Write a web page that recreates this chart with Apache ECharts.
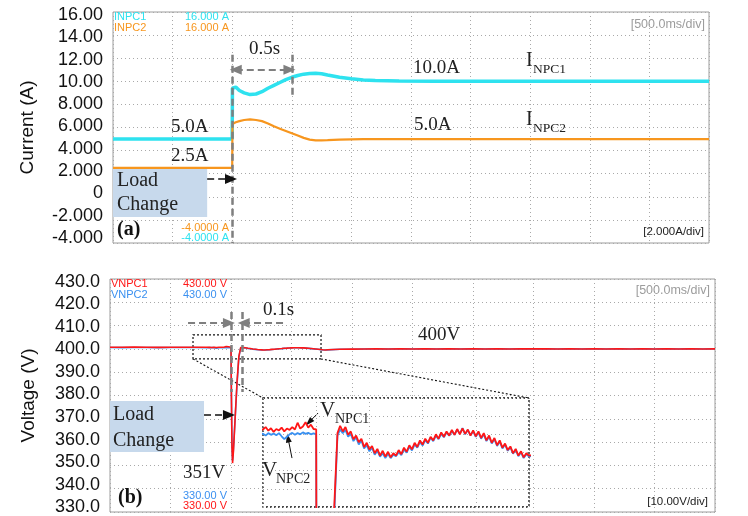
<!DOCTYPE html>
<html>
<head>
<meta charset="utf-8">
<script src="https://cdn.jsdelivr.net/npm/echarts@6.0.0/dist/echarts.min.js"></script>
<style>
html, body { margin: 0; padding: 0; background: #fff; }
#chart { width: 748px; height: 516px; }
</style>
</head>
<body>
<div id="chart"></div>
<script>
// ---- (a) NPC currents, 500 ms/div ----
const iTime = [0, 0.25, 0.5, 0.75, 1.0, 1.002, 1.03, 1.06, 1.1, 1.15, 1.2, 1.25, 1.3, 1.35, 1.4, 1.45, 1.5,
  1.55, 1.6, 1.65, 1.7, 1.75, 1.8, 1.9, 2.0, 2.1, 2.2, 2.4, 2.7, 3.0, 3.5, 4.0, 4.5, 5.0];
const iNpc1 = [5.0, 5.0, 5.0, 5.0, 5.0, 9.4, 9.5, 9.2, 9.0, 8.85, 8.9, 9.1, 9.4, 9.65, 9.9, 10.15, 10.35,
  10.5, 10.62, 10.68, 10.7, 10.66, 10.55, 10.35, 10.22, 10.12, 10.06, 10.02, 10.0, 10.0, 10.0, 10.0, 10.0, 10.0];
const iNpc2 = [2.5, 2.5, 2.5, 2.5, 2.5, 6.3, 6.45, 6.55, 6.65, 6.7, 6.65, 6.55, 6.35, 6.1, 5.9, 5.7, 5.5,
  5.3, 5.1, 4.95, 4.88, 4.88, 4.9, 4.95, 4.98, 5.0, 5.0, 5.0, 5.0, 5.0, 5.0, 5.0, 5.0, 5.0];
const currentTicks = ['-4.000', '-2.000', '0', '2.000', '4.000', '6.000', '8.000', '10.00', '12.00', '14.00', '16.00'];

// ---- (b) NPC capacitor voltages, 500 ms/div ----
const vTime = [0, 0.1, 0.2, 0.3, 0.4, 0.5, 0.6, 0.7,
  0.80, 0.81, 0.82, 0.83, 0.84, 0.85, 0.86, 0.87, 0.88, 0.89, 0.90, 0.91, 0.92, 0.93, 0.94, 0.95, 0.96, 0.97, 0.98, 0.99, 1.00,
  1.003, 1.008, 1.013, 1.02, 1.035, 1.05, 1.065,
  1.08, 1.09, 1.10, 1.11, 1.12, 1.13, 1.14, 1.15, 1.16, 1.17, 1.18, 1.19, 1.20, 1.21, 1.22, 1.23, 1.24, 1.25,
  1.26, 1.27, 1.28, 1.29, 1.30, 1.31, 1.32, 1.33, 1.34, 1.35, 1.36, 1.37, 1.38, 1.39, 1.40, 1.41, 1.42, 1.43,
  1.44, 1.45, 1.46, 1.47, 1.48, 1.49, 1.50, 1.51, 1.52, 1.53, 1.54, 1.55, 1.56, 1.57, 1.58, 1.59, 1.60, 1.61,
  1.62, 1.63, 1.64, 1.65, 1.66, 1.67, 1.68, 1.69, 1.70, 1.71, 1.72, 1.73, 1.74, 1.75, 1.76, 1.77, 1.78, 1.79, 1.80,
  1.9, 2.0, 2.1, 2.2, 2.3, 2.4, 2.5, 2.6, 2.7, 2.8, 2.9, 3.0, 3.1, 3.2, 3.3, 3.4, 3.5, 3.6, 3.7, 3.8, 3.9, 4.0,
  4.1, 4.2, 4.3, 4.4, 4.5, 4.6, 4.7, 4.8, 4.9, 5.0];
const vNpc1 = [400.72, 400.68, 400.75, 400.70, 400.66, 400.74, 400.70, 400.72,
  400.70, 400.80, 400.65, 400.75, 400.60, 400.72, 400.66, 400.78, 400.62, 400.74, 400.68, 400.80, 400.70, 400.98,
  400.74, 400.82, 401.00, 400.78, 400.90, 400.72, 400.70,
  382, 358, 351, 356, 371, 386, 396.8,
  400.55, 400.85, 400.62, 400.80, 400.48, 400.62, 400.30, 400.45, 400.18, 400.32, 399.98, 400.15, 399.88, 400.02,
  399.72, 399.90, 399.62, 399.82, 399.58, 399.78, 399.55, 399.72, 399.62, 399.85, 399.68, 399.95, 399.78, 400.05,
  399.88, 400.15, 399.98, 400.25, 400.08, 400.32, 400.15, 400.40, 400.25, 400.50, 400.32, 400.58, 400.40, 400.62,
  400.45, 400.68, 400.48, 400.72, 400.50, 400.75, 400.52, 400.70, 400.45, 400.66, 400.42, 400.62, 400.35, 400.55,
  400.25, 400.45, 400.15, 400.35, 400.05, 400.25, 399.95, 400.12, 399.85, 400.00, 399.72, 399.90, 399.62, 399.80,
  399.55, 399.72, 399.62,
  399.85, 399.90, 399.95, 400.00, 399.98, 400.02, 399.97, 400.03, 399.98, 400.02, 399.96, 400.04, 399.98, 400.02,
  399.97, 400.03, 399.99, 400.02, 399.97, 400.03, 399.98, 400.02, 399.96, 400.03, 399.98, 400.02, 399.97, 400.03,
  399.98, 400.02, 399.97, 400.01];
const vNpc2 = [400.60, 400.56, 400.62, 400.58, 400.55, 400.61, 400.57, 400.60,
  400.52, 400.45, 400.55, 400.48, 400.53, 400.46, 400.55, 400.42, 400.30, 400.40, 400.50, 400.56, 400.48, 400.55,
  400.50, 400.58, 400.52, 400.56, 400.50, 400.54, 400.50,
  383, 359, 352, 357, 371, 385, 396.4,
  400.45, 400.70, 400.55, 400.68, 400.40, 400.52, 400.22, 400.38, 400.08, 400.25, 399.92, 400.05, 399.80, 399.95,
  399.66, 399.82, 399.58, 399.72, 399.52, 399.70, 399.52, 399.66, 399.60, 399.76, 399.64, 399.88, 399.74, 399.98,
  399.84, 400.08, 399.95, 400.18, 400.04, 400.26, 400.12, 400.36, 400.22, 400.44, 400.30, 400.52, 400.38, 400.58,
  400.44, 400.64, 400.48, 400.70, 400.52, 400.76, 400.50, 400.68, 400.46, 400.62, 400.40, 400.58, 400.32, 400.50,
  400.22, 400.40, 400.12, 400.30, 400.02, 400.20, 399.92, 400.08, 399.82, 399.96, 399.70, 399.86, 399.60, 399.76,
  399.52, 399.68, 399.58,
  399.82, 399.88, 399.93, 399.98, 399.96, 400.00, 399.95, 400.01, 399.96, 400.00, 399.94, 400.02, 399.96, 400.00,
  399.95, 400.01, 399.97, 400.00, 399.95, 400.01, 399.96, 400.00, 399.94, 400.01, 399.96, 400.00, 399.95, 400.01,
  399.96, 400.00, 399.95, 399.99];
const voltageTicks = ['330.0', '340.0', '350.0', '360.0', '370.0', '380.0', '390.0', '400.0', '410.0', '420.0', '430.0'];

const SANS = "'Liberation Sans', Arial, sans-serif";
const SERIF = "'Liberation Serif', 'Times New Roman', serif";
const CYAN = '#2ee2ef', ORANGE = '#f7961e', RED = '#ff1616', BLUE = '#3a90f0';
const GUIDE = '#7f7f7f';

const zip = (ts, vs) => ts.map((t, i) => [t, vs[i]]);

const dotted = { show: true, lineStyle: { color: '#a9a9a9', type: [1, 3], width: 1 } };
function timeAxis(gridIndex, min, max, interval, z) {
  return {
    gridIndex, type: 'value', min, max, interval, z,
    axisLine: { show: false }, axisTick: { show: false }, axisLabel: { show: false },
    splitLine: dotted
  };
}

// Tick labels sit slightly pulled in toward the middle of the scale:
// the lowest one a few pixels up, the highest a few pixels down.
function scaleLabels(ticks, min, step) {
  const rich = {};
  ticks.forEach((_, k) => {
    const d = Math.round((-5 + 0.8 * k) * 2) / 2;
    rich['r' + k] = {
      fontFamily: SANS, fontSize: 18, color: '#111',
      padding: d >= 0 ? [2 * d, 0, 0, 0] : [0, 0, -2 * d, 0]
    };
  });
  return {
    margin: 10, rich,
    formatter: v => {
      const k = Math.round((v - min) / step);
      return '{r' + k + '|' + ticks[k] + '}';
    }
  };
}

// dashed guide segment between two data points
function guide(a, b, color, width, endSymbols) {
  const ls = { color, width, type: [7, 4] };
  return [
    { coord: a, symbol: endSymbols[0], symbolSize: [10, 12], lineStyle: ls },
    { coord: b, symbol: endSymbols[1], symbolSize: [10, 12], lineStyle: ls }
  ];
}
function pointer(a, b) {
  const ls = { color: '#111', width: 1, type: 'solid' };
  return [
    { coord: a, symbol: 'none', lineStyle: ls },
    { coord: b, symbol: 'triangle', symbolSize: [6, 9], lineStyle: ls }
  ];
}

const chart = echarts.init(document.getElementById('chart'), null, { renderer: 'canvas' });

const option = {
  animation: false,
  grid: [
    { left: 113, top: 12, width: 596, height: 231, show: true, borderColor: '#9c9c9c', borderWidth: 1, outerBoundsMode: 'none' },
    { left: 110, top: 279, width: 605, height: 233, show: true, borderColor: '#9c9c9c', borderWidth: 1, outerBoundsMode: 'none' },
    { left: 263, top: 398, width: 266, height: 109, show: true, backgroundColor: '#fff', borderColor: '#111',
      borderWidth: 1.3, borderType: [2, 2], z: 5, outerBoundsMode: 'none' }
  ],
  xAxis: [
    timeAxis(0, 0, 5, 0.5, 0),
    timeAxis(1, 0, 5, 0.5, 0),
    timeAxis(2, 0.8, 1.8, 0.2, 6)
  ],
  yAxis: [
    {
      gridIndex: 0, type: 'value', min: -4, max: 16, interval: 2,
      axisLine: { show: false }, axisTick: { show: false }, splitLine: dotted,
      axisLabel: scaleLabels(currentTicks, -4, 2),
      name: 'Current (A)', nameLocation: 'middle', nameGap: 76,
      nameTextStyle: { fontFamily: SANS, fontSize: 19, color: '#111' }
    },
    {
      gridIndex: 1, type: 'value', min: 330, max: 430, interval: 10,
      axisLine: { show: false }, axisTick: { show: false }, splitLine: dotted,
      axisLabel: scaleLabels(voltageTicks, 330, 10),
      name: 'Voltage (V)', nameLocation: 'middle', nameGap: 72,
      nameTextStyle: { fontFamily: SANS, fontSize: 19, color: '#111' }
    },
    {
      gridIndex: 2, type: 'value', min: 397.5, max: 402, interval: 0.75, z: 6,
      axisLine: { show: false }, axisTick: { show: false }, axisLabel: { show: false }, splitLine: dotted
    }
  ],
  series: [
    {
      name: 'INPC1', type: 'line', xAxisIndex: 0, yAxisIndex: 0, data: zip(iTime, iNpc1),
      showSymbol: false, lineStyle: { color: CYAN, width: 3.5 }, itemStyle: { color: CYAN }, z: 3,
      markArea: {
        silent: true,
        itemStyle: { color: '#c7d9ec' },
        data: [[{ coord: [0, 2.58] }, { coord: [0.79, -1.75] }]]
      },
      markLine: {
        silent: true, animation: false, symbol: ['none', 'none'], label: { show: false },
        data: [
          guide([1.0, 12.3], [1.0, -4], GUIDE, 2.5, ['none', 'none']),
          guide([1.5, 12.3], [1.5, 8.6], GUIDE, 2.5, ['none', 'none']),
          guide([1.03, 11.0], [1.48, 11.0], GUIDE, 2, ['triangle', 'triangle']),
          guide([0.79, 1.55], [0.99, 1.55], '#111', 1.6, ['none', 'triangle'])
        ]
      }
    },
    {
      name: 'INPC2', type: 'line', xAxisIndex: 0, yAxisIndex: 0, data: zip(iTime, iNpc2),
      showSymbol: false, lineStyle: { color: ORANGE, width: 2.2 }, itemStyle: { color: ORANGE }, z: 3
    },
    {
      name: 'VNPC2', type: 'line', xAxisIndex: 1, yAxisIndex: 1, data: zip(vTime, vNpc2),
      showSymbol: false, lineStyle: { color: BLUE, width: 1.6 }, itemStyle: { color: BLUE }, z: 3
    },
    {
      name: 'VNPC1', type: 'line', xAxisIndex: 1, yAxisIndex: 1, data: zip(vTime, vNpc1),
      showSymbol: false, lineStyle: { color: RED, width: 1.6 }, itemStyle: { color: RED }, z: 4,
      markArea: {
        silent: true,
        data: [
          [{ coord: [0, 377.6], itemStyle: { color: '#c7d9ec' } }, { coord: [0.777, 355.8] }],
          [{ coord: [0.686, 406], itemStyle: { color: 'rgba(0,0,0,0)', borderColor: '#111', borderWidth: 1.2, borderType: [2, 2] } },
           { coord: [1.744, 395.7] }]
        ]
      },
      markLine: {
        silent: true, animation: false, symbol: ['none', 'none'], label: { show: false },
        data: [
          guide([1.0, 415.8], [1.0, 381.5], GUIDE, 2.5, ['none', 'none']),
          guide([1.09, 415.8], [1.09, 381.5], GUIDE, 2.5, ['none', 'none']),
          guide([0.645, 411.1], [0.983, 411.1], GUIDE, 2, ['none', 'triangle']),
          guide([1.43, 411.1], [1.105, 411.1], GUIDE, 2, ['none', 'triangle']),
          guide([0.777, 371.6], [0.983, 371.6], '#111', 1.6, ['none', 'triangle'])
        ]
      }
    },
    {
      name: 'VNPC2 detail', type: 'line', xAxisIndex: 2, yAxisIndex: 2, data: zip(vTime, vNpc2),
      showSymbol: false, clip: true, lineStyle: { color: BLUE, width: 1.8 }, itemStyle: { color: BLUE }, z: 7
    },
    {
      name: 'VNPC1 detail', type: 'line', xAxisIndex: 2, yAxisIndex: 2, data: zip(vTime, vNpc1),
      showSymbol: false, clip: true, lineStyle: { color: RED, width: 1.8 }, itemStyle: { color: RED }, z: 8,
      markLine: {
        silent: true, animation: false, symbol: ['none', 'none'], label: { show: false },
        data: [
          pointer([1.007, 401.38], [0.973, 401.0]),
          pointer([0.909, 399.52], [0.894, 400.35])
        ]
      }
    }
  ]
};
chart.setOption(option);

// Text annotations and the connector lines from the zoom box to the detail view
function txt(x, y, text, font, size, color, align, weight) {
  return {
    type: 'text', x, y, z: 20, silent: true,
    style: { text, fontFamily: font, fontSize: size, fill: color, align: align || 'left',
      verticalAlign: 'middle', fontWeight: weight || 'normal' }
  };
}
const boxL = chart.convertToPixel({ gridIndex: 1 }, [0.686, 395.7]);
const boxR = chart.convertToPixel({ gridIndex: 1 }, [1.744, 395.7]);
const detL = chart.convertToPixel({ gridIndex: 2 }, [0.8, 402]);
const detR = chart.convertToPixel({ gridIndex: 2 }, [1.8, 402]);
const connector = (a, b) => ({
  type: 'line', z: 4, silent: true,
  shape: { x1: a[0], y1: a[1], x2: b[0], y2: b[1] },
  style: { stroke: '#111', lineWidth: 1.1, lineDash: [2, 2] }
});

chart.setOption({
  graphic: [
    connector(boxL, detL),
    connector(boxR, detR),
    // channel readouts, panel (a)
    txt(114, 17, 'INPC1', SANS, 11, CYAN),
    txt(114, 28, 'INPC2', SANS, 11, ORANGE),
    txt(229, 17, '16.000 A', SANS, 11, CYAN, 'right'),
    txt(229, 28, '16.000 A', SANS, 11, ORANGE, 'right'),
    txt(229, 228, '-4.0000 A', SANS, 11, ORANGE, 'right'),
    txt(229, 238, '-4.0000 A', SANS, 11, CYAN, 'right'),
    txt(705, 25, '[500.0ms/div]', SANS, 12.5, '#9c9c9c', 'right'),
    txt(704, 232, '[2.000A/div]', SANS, 11.5, '#222', 'right'),
    // labels, panel (a)
    txt(249, 49, '0.5s', SERIF, 19, '#222'),
    txt(413, 68, '10.0A', SERIF, 19, '#222'),
    txt(414, 125, '5.0A', SERIF, 19, '#222'),
    txt(526, 61, 'I', SERIF, 20, '#222'),
    txt(533, 69, 'NPC1', SERIF, 13.5, '#222'),
    txt(526, 120, 'I', SERIF, 20, '#222'),
    txt(533, 128, 'NPC2', SERIF, 13.5, '#222'),
    txt(171, 127, '5.0A', SERIF, 19, '#222'),
    txt(171, 156, '2.5A', SERIF, 19, '#222'),
    txt(117, 181, 'Load', SERIF, 20, '#222'),
    txt(117, 205, 'Change', SERIF, 20, '#222'),
    txt(117, 230, '(a)', SERIF, 20, '#111', 'left', 'bold'),
    // channel readouts, panel (b)
    txt(111, 284, 'VNPC1', SANS, 11, RED),
    txt(111, 295, 'VNPC2', SANS, 11, BLUE),
    txt(227, 284, '430.00 V', SANS, 11, RED, 'right'),
    txt(227, 295, '430.00 V', SANS, 11, BLUE, 'right'),
    txt(227, 496, '330.00 V', SANS, 11, BLUE, 'right'),
    txt(227, 506, '330.00 V', SANS, 11, RED, 'right'),
    txt(710, 291, '[500.0ms/div]', SANS, 12.5, '#9c9c9c', 'right'),
    txt(708, 502, '[10.00V/div]', SANS, 11.5, '#222', 'right'),
    // labels, panel (b)
    txt(263, 310, '0.1s', SERIF, 19, '#222'),
    txt(418, 335, '400V', SERIF, 19, '#222'),
    txt(113, 415, 'Load', SERIF, 20, '#222'),
    txt(113, 441, 'Change', SERIF, 20, '#222'),
    txt(183, 473, '351V', SERIF, 19, '#222'),
    txt(118, 498, '(b)', SERIF, 20, '#111', 'left', 'bold'),
    txt(320, 410, 'V', SERIF, 21, '#222'),
    txt(335, 419, 'NPC1', SERIF, 14, '#222'),
    txt(262, 470, 'V', SERIF, 21, '#222'),
    txt(276, 479, 'NPC2', SERIF, 14, '#222')
  ]
});
</script>
</body>
</html>
